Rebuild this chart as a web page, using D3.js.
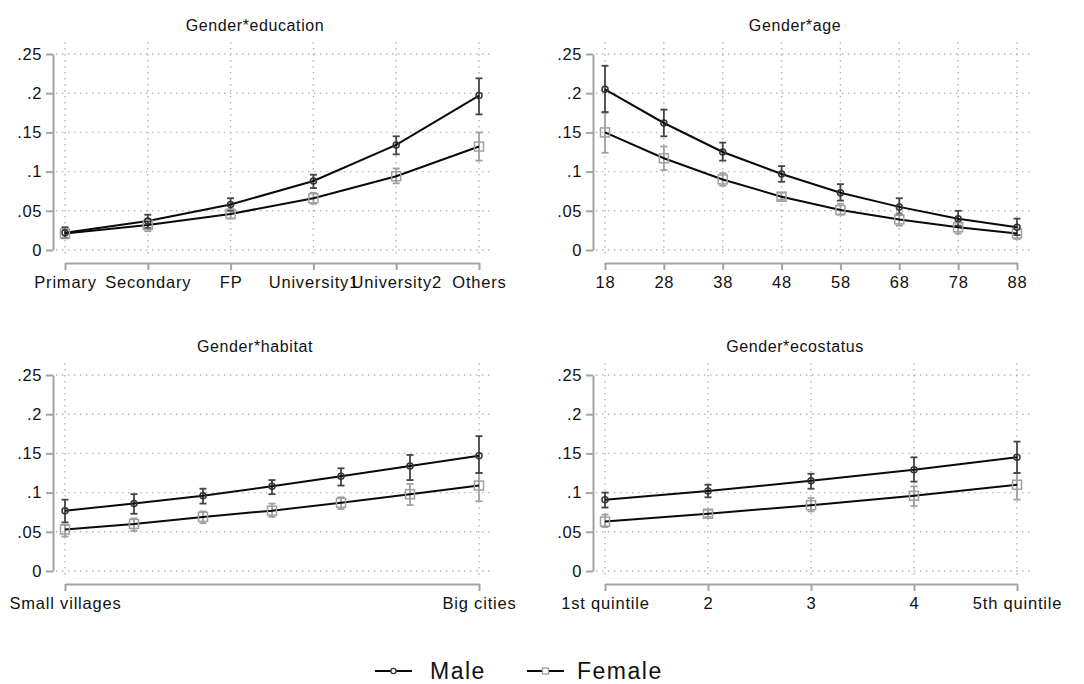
<!DOCTYPE html>
<html>
<head>
<meta charset="utf-8">
<script src="https://cdn.jsdelivr.net/npm/d3@7"></script>
<style>
  html, body { margin: 0; padding: 0; background: #fff; }
  svg { display: block; font-family: "Liberation Sans", Arial, sans-serif; }
</style>
</head>
<body>
<svg id="chart" width="1084" height="684"></svg>
<script>
// ---------- DATA ----------
const yTicks = [0, 0.05, 0.1, 0.15, 0.2, 0.25];
const yTickLabels = ["0", ".05", ".1", ".15", ".2", ".25"];

// Panel 1: Gender*education
const eduCats = ["Primary", "Secondary", "FP", "University1", "University2", "Others"];
const eduMale = [0.022, 0.037, 0.058, 0.088, 0.134, 0.197];
const eduMaleLo = [0.015, 0.028, 0.050, 0.079, 0.122, 0.173];
const eduMaleHi = [0.029, 0.045, 0.066, 0.096, 0.145, 0.219];
const eduFemale = [0.021, 0.032, 0.046, 0.066, 0.094, 0.132];
const eduFemaleLo = [0.016, 0.024, 0.040, 0.059, 0.085, 0.114];
const eduFemaleHi = [0.027, 0.040, 0.052, 0.073, 0.104, 0.150];

// Panel 2: Gender*age
const ageVals = [18, 28, 38, 48, 58, 68, 78, 88];
const ageMale = [0.205, 0.162, 0.125, 0.097, 0.073, 0.055, 0.040, 0.029];
const ageMaleLo = [0.176, 0.145, 0.114, 0.087, 0.063, 0.045, 0.031, 0.019];
const ageMaleHi = [0.235, 0.179, 0.137, 0.107, 0.084, 0.066, 0.050, 0.040];
const ageFemale = [0.150, 0.117, 0.090, 0.068, 0.051, 0.039, 0.029, 0.021];
const ageFemaleLo = [0.124, 0.102, 0.082, 0.064, 0.045, 0.031, 0.021, 0.014];
const ageFemaleHi = [0.175, 0.132, 0.098, 0.073, 0.059, 0.047, 0.036, 0.028];

// Panel 3: Gender*habitat
const habVals = [1, 2, 3, 4, 5, 6, 7];
const habTicks = [1, 7];
const habTickLabels = ["Small villages", "Big cities"];
const habMale = [0.077, 0.086, 0.096, 0.108, 0.121, 0.134, 0.147];
const habMaleLo = [0.062, 0.073, 0.086, 0.098, 0.109, 0.116, 0.125];
const habMaleHi = [0.091, 0.098, 0.105, 0.116, 0.131, 0.148, 0.172];
const habFemale = [0.053, 0.060, 0.069, 0.077, 0.087, 0.098, 0.109];
const habFemaleLo = [0.044, 0.051, 0.061, 0.069, 0.079, 0.084, 0.089];
const habFemaleHi = [0.059, 0.067, 0.076, 0.086, 0.094, 0.111, 0.125];

// Panel 4: Gender*ecostatus
const ecoVals = [1, 2, 3, 4, 5];
const ecoTickLabels = ["1st quintile", "2", "3", "4", "5th quintile"];
const ecoMale = [0.091, 0.102, 0.115, 0.129, 0.145];
const ecoMaleLo = [0.081, 0.094, 0.105, 0.114, 0.125];
const ecoMaleHi = [0.100, 0.110, 0.124, 0.145, 0.165];
const ecoFemale = [0.063, 0.073, 0.084, 0.096, 0.110];
const ecoFemaleLo = [0.056, 0.069, 0.076, 0.083, 0.091];
const ecoFemaleHi = [0.072, 0.078, 0.093, 0.108, 0.125];

const legendLabels = ["Male", "Female"];

// ---------- STYLE ----------
const AXIS_COL = "#a3a3a3";
const GRID_COL = "#b4b4b4";
const MALE_CI = "#444";
const FEMALE_CI = "#a0a0a0";
const LINE_COL = "#0a0a0a";
const FONT = "'Liberation Sans', Arial, sans-serif";

const svg = d3.select("#chart");

const defs = svg.append("defs");
// clip in the local coordinates of the bottom-left x axis group
defs.append("clipPath").attr("id", "clipBL")
  .append("rect").attr("x", 0).attr("y", -20).attr("width", 527).attr("height", 80);

function drawPanel(opt) {
  const g = svg.append("g");
  const axX = opt.axisX;
  const y = d3.scaleLinear().domain([0, 0.25]).range([opt.y0, opt.y0 - 196]);
  const x = opt.x;

  // gridlines
  const grid = g.append("g");
  grid.selectAll("line.h").data(yTicks).join("line")
    .attr("x1", axX + 3).attr("x2", axX + 440)
    .attr("y1", d => y(d)).attr("y2", d => y(d))
    .attr("stroke", GRID_COL).attr("stroke-width", 1.4)
    .attr("stroke-dasharray", "1.4,4.6");
  grid.selectAll("line.v").data(opt.tickVals).join("line")
    .attr("x1", d => x(d)).attr("x2", d => x(d))
    .attr("y1", y(0.25) - 12).attr("y2", y(0) + 8)
    .attr("stroke", GRID_COL).attr("stroke-width", 1.4)
    .attr("stroke-dasharray", "1.4,4.6");

  // y axis
  const ya = g.append("g").attr("transform", `translate(${axX},0)`)
    .call(d3.axisLeft(y).tickValues(yTicks).tickFormat((d, i) => yTickLabels[i])
      .tickSize(7).tickSizeOuter(0).tickPadding(4));
  ya.select(".domain").attr("stroke", AXIS_COL).attr("stroke-width", 2);
  ya.selectAll(".tick line").attr("stroke", AXIS_COL).attr("stroke-width", 2);
  ya.selectAll(".tick text").attr("fill", "#111").style("font-size", "16.5px")
    .style("letter-spacing", "0.6px").style("font-family", FONT);

  // x axis
  const xa = g.append("g").attr("transform", `translate(0,${opt.y0 + 13})`)
    .call(d3.axisBottom(x).tickValues(opt.tickVals).tickFormat((d, i) => opt.tickLabels[i])
      .tickSize(7).tickSizeOuter(0).tickPadding(6));
  xa.select(".domain").attr("stroke", AXIS_COL).attr("stroke-width", 2);
  xa.selectAll(".tick line").attr("stroke", AXIS_COL).attr("stroke-width", 2);
  xa.selectAll(".tick text").attr("fill", "#111").style("font-size", "16.5px")
    .style("letter-spacing", "0.8px").style("font-family", FONT);
  if (opt.clip) xa.attr("clip-path", "url(#" + opt.clip + ")");

  // title
  g.append("text").attr("x", opt.titleX).attr("y", opt.y0 - 219)
    .attr("text-anchor", "middle").attr("fill", "#111")
    .style("font-size", "16px").style("letter-spacing", "0.6px")
    .text(opt.title);

  const xs = opt.xVals;
  const series = [
    { v: opt.female, lo: opt.femaleLo, hi: opt.femaleHi, ci: FEMALE_CI, kind: "sq" },
    { v: opt.male, lo: opt.maleLo, hi: opt.maleHi, ci: MALE_CI, kind: "ci" }
  ];
  // CIs
  series.forEach(s => {
    const cg = g.append("g").attr("stroke", s.ci).attr("stroke-width", 1.8).attr("fill", "none");
    xs.forEach((xv, i) => {
      const cx = x(xv);
      cg.append("line").attr("x1", cx).attr("x2", cx).attr("y1", y(s.lo[i])).attr("y2", y(s.hi[i]));
      cg.append("line").attr("x1", cx - 3.5).attr("x2", cx + 3.5).attr("y1", y(s.lo[i])).attr("y2", y(s.lo[i]));
      cg.append("line").attr("x1", cx - 3.5).attr("x2", cx + 3.5).attr("y1", y(s.hi[i])).attr("y2", y(s.hi[i]));
    });
  });
  // lines
  const line = d3.line().x((d, i) => x(xs[i])).y(d => y(d));
  series.forEach(s => {
    g.append("path").datum(s.v).attr("d", line)
      .attr("fill", "none").attr("stroke", LINE_COL).attr("stroke-width", 2);
  });
  // markers
  series.forEach(s => {
    const mg = g.append("g").attr("fill", "none");
    xs.forEach((xv, i) => {
      const cx = x(xv), cy = y(s.v[i]);
      if (s.kind === "sq") {
        mg.append("rect").attr("x", cx - 4.5).attr("y", cy - 4.5).attr("width", 9).attr("height", 9)
          .attr("stroke", FEMALE_CI).attr("stroke-width", 1.5);
      } else {
        mg.append("circle").attr("cx", cx).attr("cy", cy).attr("r", 3)
          .attr("stroke", "#333").attr("stroke-width", 1.5);
      }
    });
  });
}

// Panel TL
drawPanel({
  axisX: 53, y0: 250, titleX: 255, title: "Gender*education",
  x: d3.scalePoint().domain(eduCats).range([65, 479]).padding(0),
  tickVals: eduCats, tickLabels: eduCats, xVals: eduCats,
  male: eduMale, maleLo: eduMaleLo, maleHi: eduMaleHi,
  female: eduFemale, femaleLo: eduFemaleLo, femaleHi: eduFemaleHi
});
// Panel TR
drawPanel({
  axisX: 593, y0: 250, titleX: 795, title: "Gender*age",
  x: d3.scaleLinear().domain([18, 88]).range([605, 1017]),
  tickVals: ageVals, tickLabels: ageVals.map(String), xVals: ageVals,
  male: ageMale, maleLo: ageMaleLo, maleHi: ageMaleHi,
  female: ageFemale, femaleLo: ageFemaleLo, femaleHi: ageFemaleHi
});
// Panel BL
drawPanel({
  axisX: 53, y0: 571, titleX: 255, title: "Gender*habitat", clip: "clipBL",
  x: d3.scaleLinear().domain([1, 7]).range([65, 479]),
  tickVals: habTicks, tickLabels: habTickLabels, xVals: habVals,
  male: habMale, maleLo: habMaleLo, maleHi: habMaleHi,
  female: habFemale, femaleLo: habFemaleLo, femaleHi: habFemaleHi
});
// Panel BR
drawPanel({
  axisX: 593, y0: 571, titleX: 795, title: "Gender*ecostatus",
  x: d3.scaleLinear().domain([1, 5]).range([605, 1017]),
  tickVals: ecoVals, tickLabels: ecoTickLabels, xVals: ecoVals,
  male: ecoMale, maleLo: ecoMaleLo, maleHi: ecoMaleHi,
  female: ecoFemale, femaleLo: ecoFemaleLo, femaleHi: ecoFemaleHi
});

// Legend
const lg = svg.append("g");
const legItems = [
  { label: legendLabels[0], x1: 375, x2: 412, tx: 430, kind: "ci" },
  { label: legendLabels[1], x1: 527, x2: 564, tx: 577, kind: "sq" }
];
legItems.forEach(it => {
  const ly = 671;
  lg.append("line").attr("x1", it.x1).attr("x2", it.x2).attr("y1", ly).attr("y2", ly)
    .attr("stroke", LINE_COL).attr("stroke-width", 1.8);
  const mx = (it.x1 + it.x2) / 2;
  if (it.kind === "sq") {
    lg.append("rect").attr("x", mx - 3).attr("y", ly - 3).attr("width", 6).attr("height", 6)
      .attr("fill", "#fff").attr("stroke", FEMALE_CI).attr("stroke-width", 1.3);
  } else {
    lg.append("circle").attr("cx", mx).attr("cy", ly).attr("r", 2.6)
      .attr("fill", "#fff").attr("stroke", "#333").attr("stroke-width", 1.3);
  }
  lg.append("text").attr("x", it.tx).attr("y", ly + 8).attr("fill", "#111")
    .style("font-size", "23px").style("letter-spacing", "1.5px").text(it.label);
});
</script>
</body>
</html>
